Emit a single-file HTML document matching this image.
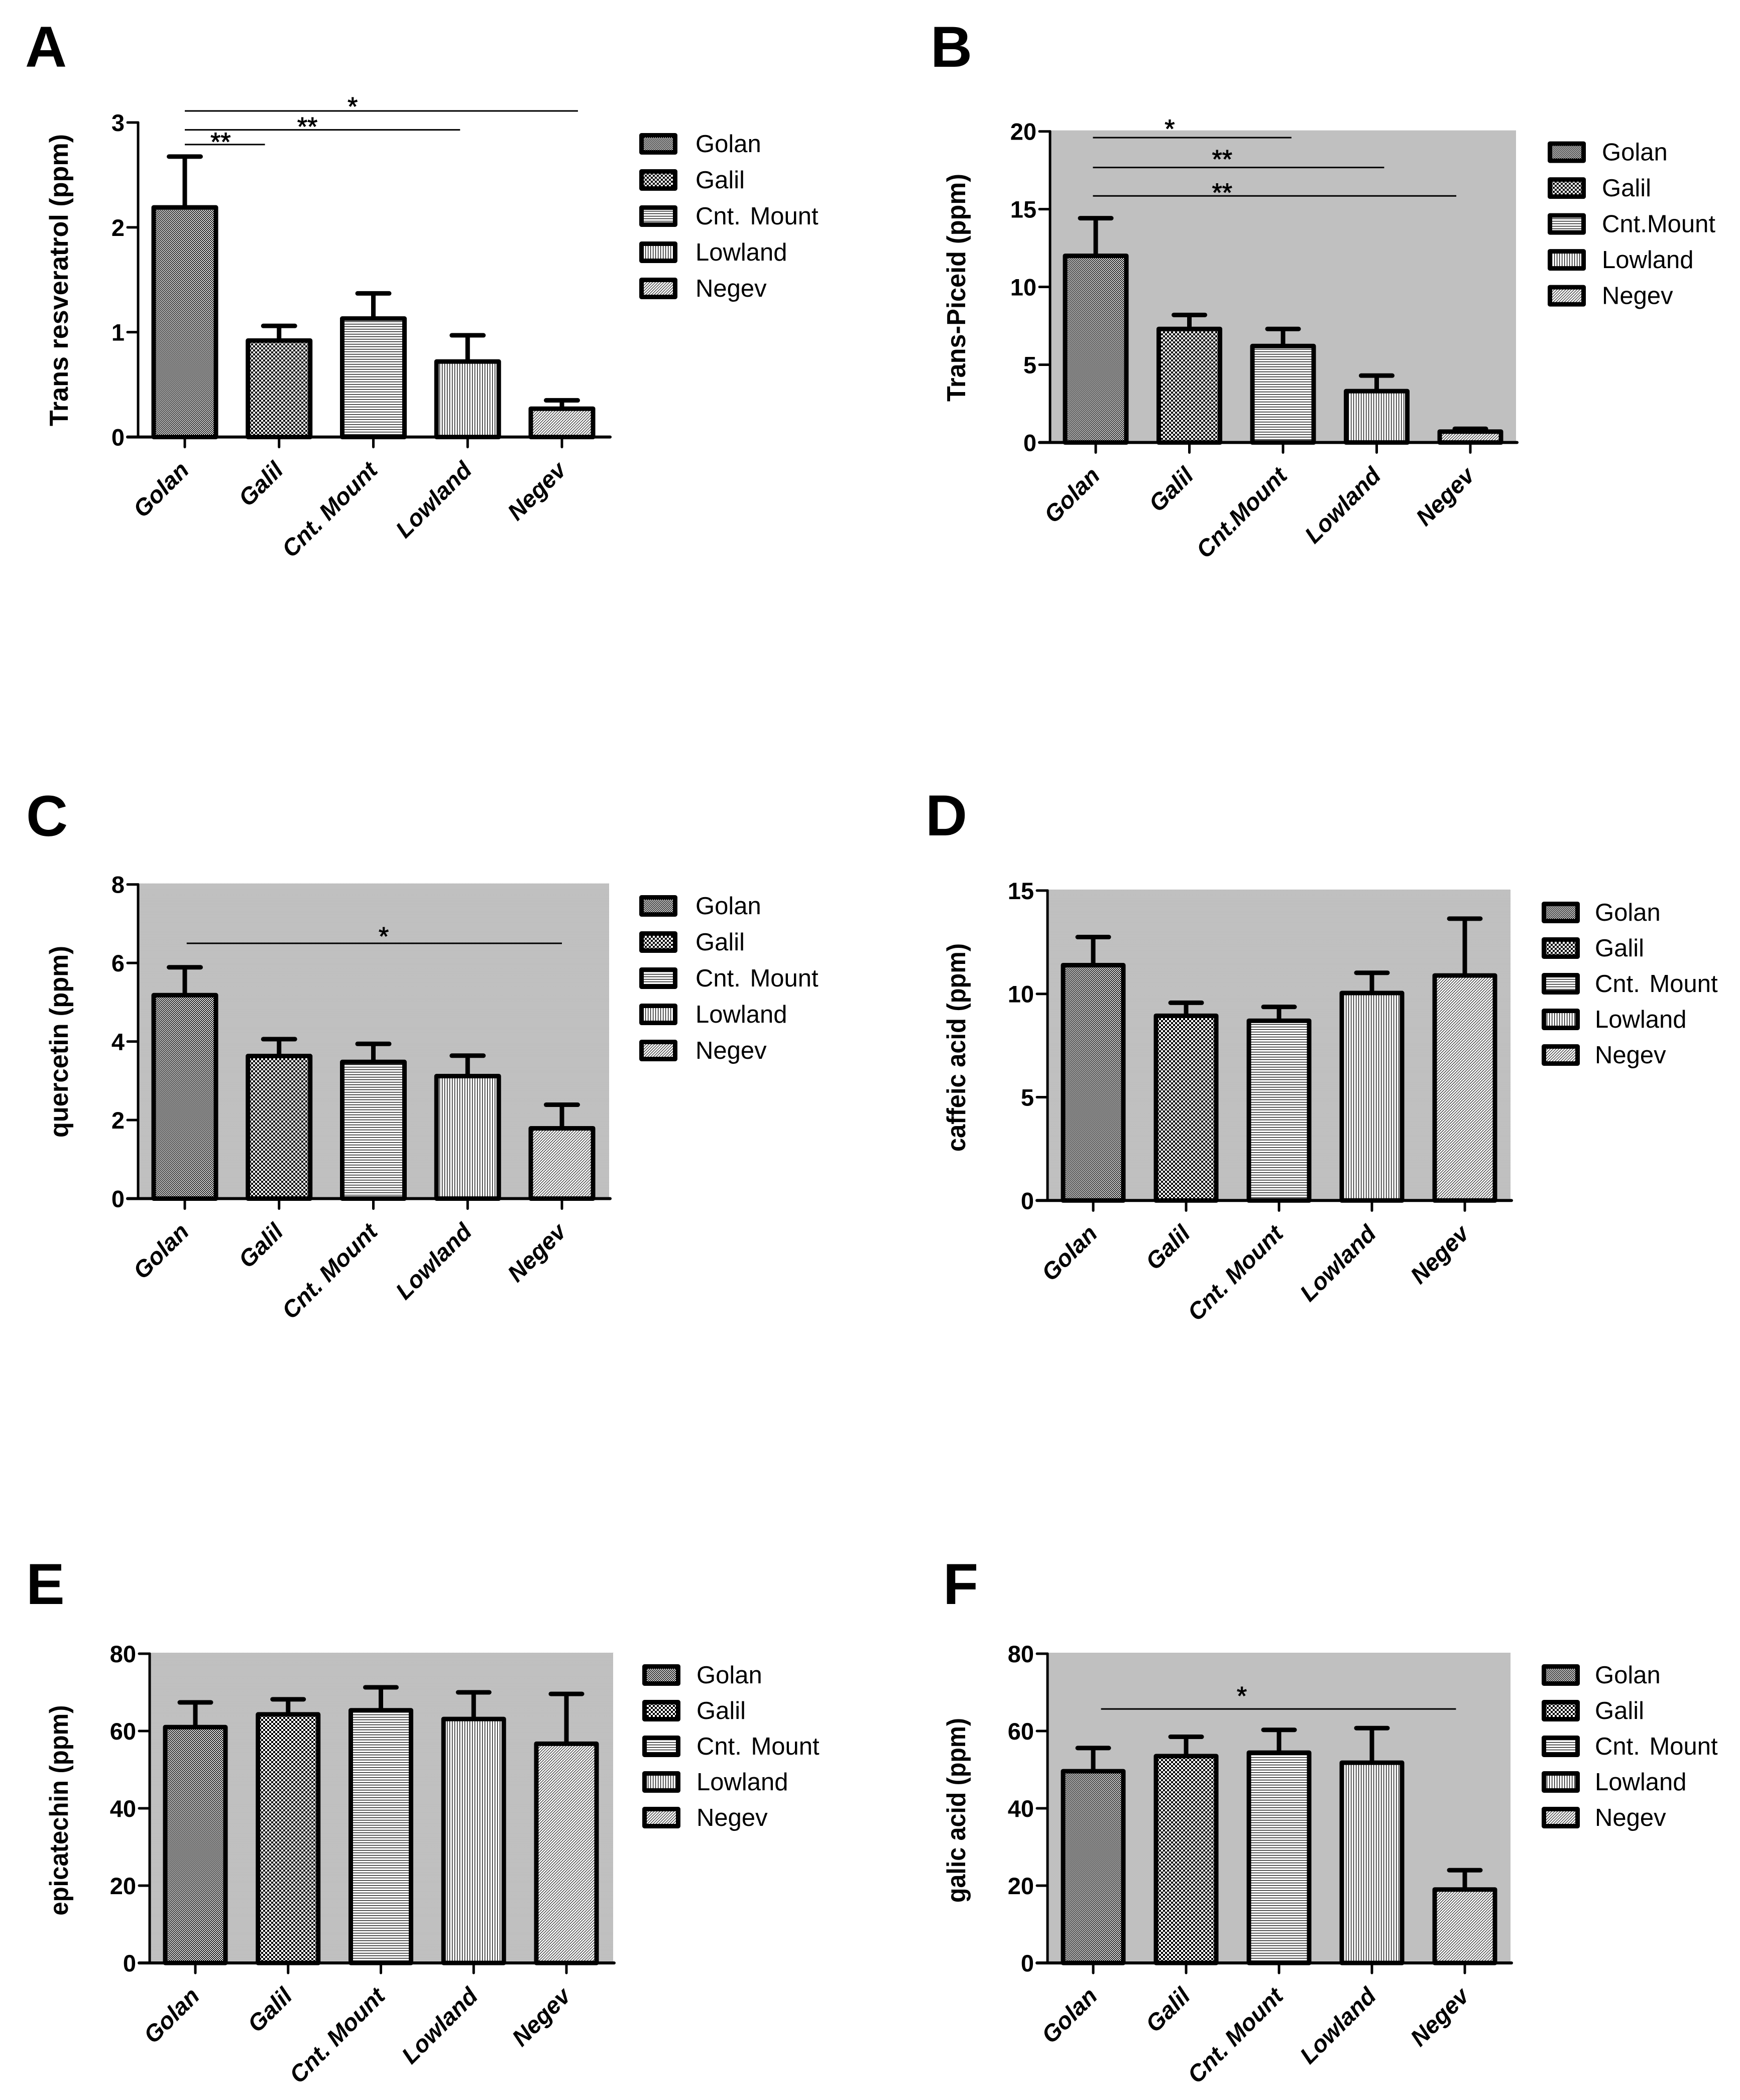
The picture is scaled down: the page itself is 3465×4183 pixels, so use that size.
<!DOCTYPE html>
<html lang="en">
<head>
<meta charset="utf-8">
<title>Phenolic compounds by region</title>
<style>
html,body{margin:0;padding:0;background:#fff;}
svg{display:block;}
text{font-family:"Liberation Sans",Arial,sans-serif;fill:#000;}
</style>
</head>
<body>
<svg id="figure" xmlns="http://www.w3.org/2000/svg" width="3465" height="4183" viewBox="0 0 3465 4183">
<defs>
<pattern id="pat-golan" width="4" height="4" patternUnits="userSpaceOnUse"><rect width="4" height="4" fill="#fff"/><rect width="2" height="2" fill="#000"/><rect x="2" y="2" width="2" height="2" fill="#000"/></pattern>
<pattern id="pat-galil" width="8" height="8" patternUnits="userSpaceOnUse"><rect width="8" height="8" fill="#fff"/><rect width="4" height="4" fill="#000"/><rect x="4" y="4" width="4" height="4" fill="#000"/></pattern>
<pattern id="pat-cnt" width="5" height="5" patternUnits="userSpaceOnUse"><rect width="5" height="5" fill="#fff"/><rect y="0" width="5" height="1" fill="#000"/><rect y="1" width="5" height="1" fill="#bbb"/></pattern>
<pattern id="pat-low" width="5" height="5" patternUnits="userSpaceOnUse"><rect width="5" height="5" fill="#fff"/><rect x="0" width="1" height="5" fill="#000"/><rect x="1" width="1" height="5" fill="#bbb"/></pattern>
<pattern id="pat-neg" width="4" height="4" patternUnits="userSpaceOnUse" patternTransform="rotate(45)"><rect width="4" height="4" fill="#fff"/><rect width="1" height="4" fill="#000"/></pattern>
<pattern id="pat-bg" width="2" height="2" patternUnits="userSpaceOnUse"><rect width="2" height="2" fill="#fff"/><rect width="1" height="1" fill="#808080"/><rect x="1" y="1" width="1" height="1" fill="#808080"/></pattern>
</defs>
</svg>
<script>
// Shared categories and fills
var categories = ['Golan', 'Galil', 'Cnt. Mount', 'Lowland', 'Negev'];
var categoriesB = ['Golan', 'Galil', 'Cnt.Mount', 'Lowland', 'Negev'];

// Panel A
var aMeans = [2.19, 0.92, 1.13, 0.72, 0.27];
var aUpper = [2.675, 1.06, 1.37, 0.97, 0.35];
var aTicks = [0, 1, 2, 3];
var aSigTo = [0.85, 2.92, 4.17];
var aSigFrom = [0, 0, 0];
var aSigLevel = [2.79, 2.93, 3.11];
var aSigMark = ['**', '**', '*'];
var aSigMarkCat = [0.38, 1.3, 1.78];
var aSigMarkLevel = [2.85, 2.995, 3.187];

// Panel B
var bMeans = [12.0, 7.3, 6.2, 3.3, 0.7];
var bUpper = [14.42, 8.2, 7.3, 4.3, 0.88];
var bTicks = [0, 5, 10, 15, 20];
var bSigFrom = [-0.03, -0.03, -0.03];
var bSigTo = [2.09, 3.08, 3.85];
var bSigLevel = [19.6, 17.68, 15.85];
var bSigMark = ['*', '**', '**'];
var bSigMarkCat = [0.79, 1.35, 1.35];
var bSigMarkLevel = [20.4, 18.44, 16.3];

// Panel C
var cMeans = [5.18, 3.63, 3.48, 3.12, 1.79];
var cUpper = [5.89, 4.06, 3.94, 3.64, 2.39];
var cTicks = [0, 2, 4, 6, 8];
var cSigFrom = [0.02];
var cSigTo = [4];
var cSigLevel = [6.5];
var cSigMark = ['*'];
var cSigMarkCat = [2.11];
var cSigMarkLevel = [6.77];

// Panel D
var dMeans = [11.39, 8.94, 8.7, 10.04, 10.89];
var dUpper = [12.75, 9.57, 9.37, 11.02, 13.64];
var dTicks = [0, 5, 10, 15];

// Panel E
var eMeans = [61, 64.3, 65.35, 63.1, 56.7];
var eUpper = [67.4, 68.2, 71.3, 70, 69.6];
var eTicks = [0, 20, 40, 60, 80];

// Panel F
var fMeans = [49.6, 53.5, 54.4, 51.8, 19];
var fUpper = [55.6, 58.5, 60.3, 60.75, 24];
var fTicks = [0, 20, 40, 60, 80];
var fSigFrom = [0.084];
var fSigTo = [3.905];
var fSigLevel = [65.7];
var fSigMark = ['*'];
var fSigMarkCat = [1.6];
var fSigMarkLevel = [70];

var fills = ['url(#pat-golan)', 'url(#pat-galil)', 'url(#pat-cnt)', 'url(#pat-low)', 'url(#pat-neg)'];
var NS = 'http://www.w3.org/2000/svg';
var root = document.getElementById('figure');

function mk(tag, attrs, parent, txt) {
  var n = document.createElementNS(NS, tag);
  for (var k in attrs) { n.setAttribute(k, attrs[k]); }
  if (txt !== undefined) { n.textContent = txt; }
  parent.appendChild(n);
  return n;
}
function slug(s) {
  return s.toLowerCase().replace(/[^a-z0-9]+/g, '-');
}

var panels = [
  {id:'a', letter:'A', lx:50, ly:133, cats:categories, means:aMeans, upper:aUpper, ticks:aTicks,
   base:870.5, top:244, x0:368, dx:187.75, left:275, right:1215, bg:'none', bw:124, cap:63,
   lgX:1273, lgY:265, lgS:72, lgT:1385, title:'Trans resveratrol (ppm)', tx:135, tc:558, tl:582,
   sigFrom:aSigFrom, sigTo:aSigTo, sigLevel:aSigLevel, sigMark:aSigMark, sigMarkCat:aSigMarkCat, sigMarkLevel:aSigMarkLevel},
  {id:'b', letter:'B', lx:1853, ly:133, cats:categoriesB, means:bMeans, upper:bUpper, ticks:bTicks,
   base:881.4, top:261.7, x0:2182, dx:186.5, left:2091, right:3021, bg:'#c0c0c0', bw:122, cap:62,
   lgX:3082, lgY:281.6, lgS:71.5, lgT:3190, title:'Trans-Piceid (ppm)', tx:1922, tc:573, tl:454,
   sigFrom:bSigFrom, sigTo:bSigTo, sigLevel:bSigLevel, sigMark:bSigMark, sigMarkCat:bSigMarkCat, sigMarkLevel:bSigMarkLevel},
  {id:'c', letter:'C', lx:52, ly:1665, cats:categories, means:cMeans, upper:cUpper, ticks:cTicks,
   base:2387.5, top:1761.7, x0:368, dx:187.75, left:275, right:1215, bg:'url(#pat-bg)', bw:124, cap:63,
   lgX:1273, lgY:1783, lgS:72, lgT:1385, title:'quercetin (ppm)', tx:135, tc:2075, tl:382,
   sigFrom:cSigFrom, sigTo:cSigTo, sigLevel:cSigLevel, sigMark:cSigMark, sigMarkCat:cSigMarkCat, sigMarkLevel:cSigMarkLevel},
  {id:'d', letter:'D', lx:1843, ly:1664, cats:categories, means:dMeans, upper:dUpper, ticks:dTicks,
   base:2391.3, top:1773.9, x0:2177, dx:185, left:2086, right:3010, bg:'url(#pat-bg)', bw:120, cap:62,
   lgX:3070, lgY:1796, lgS:71, lgT:3176, title:'caffeic acid (ppm)', tx:1922, tc:2086.5, tl:415},
  {id:'e', letter:'E', lx:52, ly:3195, cats:categories, means:eMeans, upper:eUpper, ticks:eTicks,
   base:3910, top:3294, x0:389, dx:184.75, left:298, right:1223, bg:'url(#pat-bg)', bw:120, cap:62,
   lgX:1279, lgY:3315, lgS:71, lgT:1387, title:'epicatechin (ppm)', tx:135, tc:3606, tl:419},
  {id:'f', letter:'F', lx:1878, ly:3195, cats:categories, means:fMeans, upper:fUpper, ticks:fTicks,
   base:3910, top:3294, x0:2177, dx:185, left:2086, right:3010, bg:'#c0c0c0', bw:120, cap:62,
   lgX:3070, lgY:3315, lgS:71, lgT:3176, title:'galic acid (ppm)', tx:1922, tc:3606, tl:368,
   sigFrom:fSigFrom, sigTo:fSigTo, sigLevel:fSigLevel, sigMark:fSigMark, sigMarkCat:fSigMarkCat, sigMarkLevel:fSigMarkLevel}
];

panels.forEach(function (p) {
  var yMax = p.ticks[p.ticks.length - 1];
  function yScale(v) { return p.base - (p.base - p.top) * v / yMax; }
  function xScale(i) { return p.x0 + p.dx * i; }

  var g = mk('g', {}, root);
  
  

  var letter = mk('text', {x:p.lx, y:p.ly, 'font-size':115, 'font-weight':'bold'}, g, p.letter);
  
  

  if (p.bg !== 'none') {
    var bg = mk('rect', {x:p.left, y:p.top - 2, width:p.right - p.left - 2, height:p.base - p.top + 2, fill:p.bg}, g);
    
    
  }

  // bars and error bars
  p.means.forEach(function (m, i) {
    var cx = xScale(i);
    var err = mk('g', {stroke:'#000', 'stroke-width':9, fill:'none'}, g);
    
    
    mk('line', {x1:cx, x2:cx, y1:yScale(m), y2:yScale(p.upper[i])}, err);
    mk('line', {x1:cx - p.cap / 2, x2:cx + p.cap / 2, y1:yScale(p.upper[i]), y2:yScale(p.upper[i]), 'stroke-linecap':'round'}, err);

    var bar = mk('rect', {x:cx - p.bw / 2, y:yScale(m), width:p.bw, height:p.base - yScale(m),
      fill:fills[i], stroke:'#000', 'stroke-width':9, 'stroke-linejoin':'round'}, g);
    
    
  });

  // y axis
  var yAxis = mk('line', {x1:p.left, x2:p.left, y1:p.top, y2:p.base, stroke:'#000', 'stroke-width':5, 'stroke-linecap':'round'}, g);
  
  

  p.ticks.forEach(function (t) {
    var ty = yScale(t);
    var tick = mk('line', {x1:p.left - 21, x2:p.left, y1:ty, y2:ty, stroke:'#000', 'stroke-width':5, 'stroke-linecap':'round'}, g);
    
    
    var lab = mk('text', {x:p.left - 27, y:ty + 17, 'font-size':47, 'font-weight':'bold', 'text-anchor':'end'}, g, String(t));
    
    
  });

  // x axis
  var xAxis = mk('line', {x1:p.left - 21, x2:p.right, y1:p.base, y2:p.base, stroke:'#000', 'stroke-width':6, 'stroke-linecap':'round'}, g);
  
  

  p.cats.forEach(function (c, i) {
    var cx = xScale(i);
    var tick = mk('line', {x1:cx, x2:cx, y1:p.base, y2:p.base + 20, stroke:'#000', 'stroke-width':5, 'stroke-linecap':'round'}, g);
    
    
    var lab = mk('text', {'font-size':47, 'font-weight':'bold', 'font-style':'italic', 'text-anchor':'end',
      transform:'translate(' + (cx + 11) + ' ' + (p.base + 69) + ') rotate(-45)'}, g, c);
    
    
  });

  // y axis title
  var title = mk('text', {'font-size':52, 'font-weight':'bold', 'text-anchor':'middle',
    textLength:p.tl, lengthAdjust:'spacingAndGlyphs',
    transform:'translate(' + p.tx + ' ' + p.tc + ') rotate(-90)'}, g, p.title);
  
  

  // significance brackets
  if (p.sigFrom) {
    p.sigFrom.forEach(function (from, i) {
      var line = mk('line', {x1:xScale(from), x2:xScale(p.sigTo[i]), y1:yScale(p.sigLevel[i]), y2:yScale(p.sigLevel[i]),
        stroke:'#000', 'stroke-width':3}, g);
      
      
      var mark = mk('text', {x:xScale(p.sigMarkCat[i]), y:yScale(p.sigMarkLevel[i]) + 25, 'font-size':52, 'text-anchor':'middle',
        stroke:'#000', 'stroke-width':1}, g, p.sigMark[i]);
      
      
    });
  }

  // legend
  var lg = mk('g', {}, g);
  
  
  p.cats.forEach(function (c, i) {
    var ly = p.lgY + p.lgS * i;
    var sw = mk('rect', {x:p.lgX + 4.5, y:ly + 4.5, width:67, height:34, fill:fills[i], stroke:'#000', 'stroke-width':9, 'stroke-linejoin':'round'}, lg);
    
    
    var t = mk('text', {x:p.lgT, y:ly + 38, 'font-size':49, 'word-spacing':5}, lg, c);
    
    
  });
});
</script>
</body>
</html>
